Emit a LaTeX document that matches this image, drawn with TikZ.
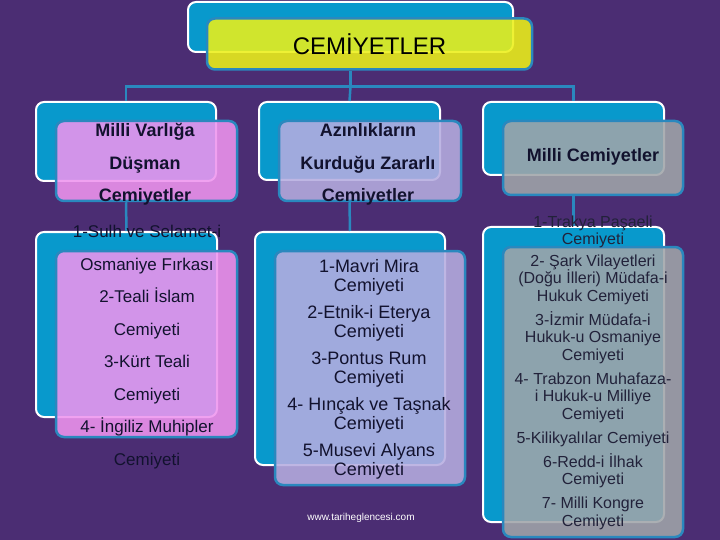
\documentclass[tikz,border=0pt]{standalone}
\usepackage{fontspec}
\setmainfont{Liberation Sans}
\usepackage{xcolor}
\usepackage{tikz}
\usetikzlibrary{shapes,arrows,positioning}

\definecolor{bgpurple}{HTML}{4B2D73}
\definecolor{boxblue}{HTML}{0899CC}
\definecolor{edgeblue}{HTML}{2A88BE}
\definecolor{yellowfill}{HTML}{ECF018}
\definecolor{pinkfill}{HTML}{EE94EE}
\definecolor{lilacfill}{HTML}{B6ADE0}
\definecolor{greyfill}{HTML}{A0A5A9}
\definecolor{inkblue}{HTML}{12122E}

\begin{document}
\begin{tikzpicture}[
    x=1pt, y=-1pt,
    backbox/.style={rectangle, draw=white, line width=2pt, fill=boxblue, rounded corners=8pt, inner sep=0pt},
    frontbox/.style={rectangle, draw=edgeblue, line width=2.5pt, rounded corners=8pt, fill opacity=0.88, inner sep=0pt},
    conn/.style={draw=edgeblue, line width=2.5pt},
    txt/.style={text=inkblue, align=center, inner sep=0pt},
    head/.style={txt, font=\fontsize{18}{32.5}\selectfont\bfseries}
]
    % Background
    \fill [bgpurple] (0,0) rectangle (720,540);
    \useasboundingbox (0,0) rectangle (720,540);

    % Top
    \node [backbox, minimum width=325pt, minimum height=50pt] (topback) at (350.5,27) {};
    \node [frontbox, fill=yellowfill, minimum width=325pt, minimum height=51pt] (top) at (369.5,44) {};
    \node [txt, text=black, font=\fontsize{24}{28}\selectfont] (toptext) at (top.center) {CEMİYETLER};

    % Level 2
    \node [backbox, minimum width=180pt, minimum height=79pt] (b1) at (126,141.5) {};
    \node [frontbox, fill=pinkfill, minimum width=181pt, minimum height=80pt] (f1) at (146.5,161) {};
    \node [backbox, minimum width=181pt, minimum height=78pt] (b2) at (349.5,141) {};
    \node [frontbox, fill=lilacfill, minimum width=182pt, minimum height=80pt] (f2) at (370,161) {};
    \node [backbox, minimum width=181pt, minimum height=73pt] (b3) at (573.5,138.5) {};
    \node [frontbox, fill=greyfill, minimum width=180pt, minimum height=74pt] (f3) at (593,158) {};

    \node [head] (h1) at (145,164.5) {Milli Varlığa\\Düşman\\Cemiyetler};
    \node [head] (h2) at (368,164.5) {Azınlıkların\\Kurduğu Zararlı\\Cemiyetler};
    \node [head] (h3) at (593,157) {Milli Cemiyetler};

    % Level 3
    \node [backbox, minimum width=181pt, minimum height=185pt] (c1) at (126.5,324.5) {};
    \node [frontbox, fill=pinkfill, minimum width=181pt, minimum height=186pt] (g1) at (146.5,344) {};
    \node [backbox, minimum width=190pt, minimum height=233pt] (c2) at (350,348.5) {};
    \node [frontbox, fill=lilacfill, minimum width=190pt, minimum height=234pt] (g2) at (370,368) {};
    \node [backbox, minimum width=181pt, minimum height=295pt] (c3) at (573.5,374.5) {};
    \node [frontbox, fill=greyfill, minimum width=180pt, minimum height=290pt] (g3) at (593,392) {};

    % Connectors
    \draw [conn] (topback.south |- top.south) -- ++(0,16) coordinate (bus);
    \draw [conn] (bus) -| (b1.north);
    \draw [conn] (bus) -| (b3.north);
    \draw [conn] (bus) -- (b2.north);
    \draw [conn] (b1.south |- f1.south) -- (c1.north);
    \draw [conn] (b2.south |- f2.south) -- (c2.north);
    \draw [conn] (b3.south |- f3.south) -- (c3.north);

    % Lists
    \node [txt, font=\fontsize{17}{32.5}\selectfont] (l1) at (147,347) {1-Sulh ve Selamet-i\\Osmaniye Fırkası\\2-Teali İslam\\Cemiyeti\\3-Kürt Teali\\Cemiyeti\\4- İngiliz Muhipler\\Cemiyeti};
    \node [txt, font=\fontsize{18}{19}\selectfont] (l2) at (369,369.5) {1-Mavri Mira\\Cemiyeti\\[8pt]2-Etnik-i Eterya\\Cemiyeti\\[8pt]3-Pontus Rum\\Cemiyeti\\[8pt]4- Hınçak ve Taşnak\\Cemiyeti\\[8pt]5-Musevi Alyans\\Cemiyeti};
    \node [txt, text=inkblue!85!gray, font=\fontsize{16}{17.5}\selectfont] (l3) at (593,372.5) {1-Trakya Paşaeli\\Cemiyeti\\[4pt]2- Şark Vilayetleri\\(Doğu İlleri) Müdafa-i\\Hukuk Cemiyeti\\[6.5pt]3-İzmir Müdafa-i\\Hukuk-u Osmaniye\\Cemiyeti\\[6.5pt]4- Trabzon Muhafaza-\\i Hukuk-u Milliye\\Cemiyeti\\[6.5pt]5-Kilikyalılar Cemiyeti\\[6.5pt]6-Redd-i İlhak\\Cemiyeti\\[6.5pt]7- Milli Kongre\\Cemiyeti};

    \node [txt, text=white, font=\fontsize{10}{12}\selectfont] (site) at (361,518) {www.tariheglencesi.com};
\end{tikzpicture}
\end{document}
